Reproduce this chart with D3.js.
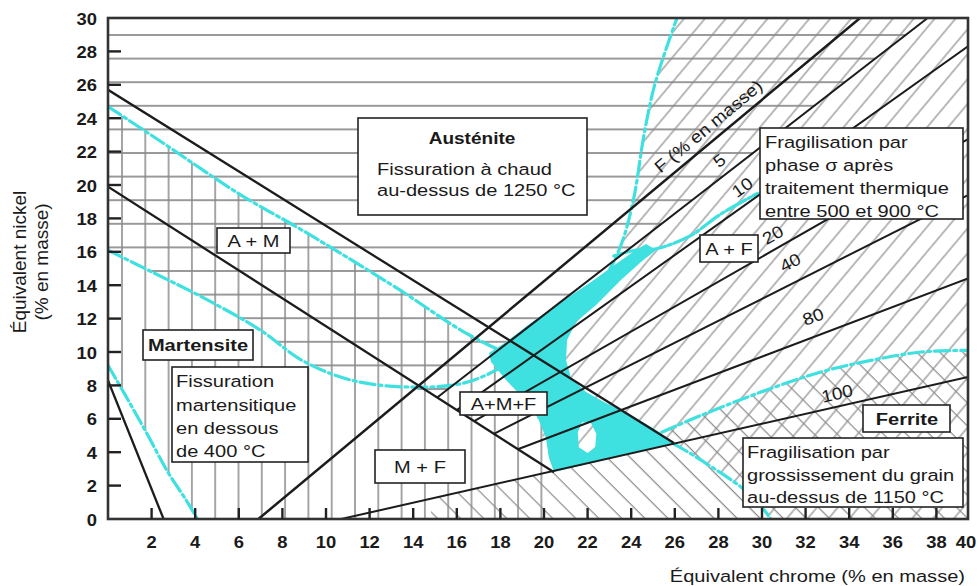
<!DOCTYPE html>
<html><head><meta charset="utf-8">
<script src="https://cdn.jsdelivr.net/npm/d3@7/dist/d3.min.js"></script>
<style>
body{margin:0;background:#fff;}
svg{display:block;font-family:"Liberation Sans",Arial,Helvetica,sans-serif;}
</style></head><body>
<svg id="c" width="978" height="586"></svg>
<script>
// ===== DATA (x = équivalent chrome, y = équivalent nickel, % en masse) =====
const xTicks = [2,4,6,8,10,12,14,16,18,20,22,24,26,28,30,32,34,36,38];
const xEndLabel = "40";
const yTicks = [0,2,4,6,8,10,12,14,16,18,20,22,24,26,28,30];

// phase boundary lines
const lineMartLimit = [[0,8.3],[2.55,0]];
const lineAustMart  = [[0,25.7],[25.96,4.55]];
const lineMartAust  = [[0,19.9],[20.46,2.8]];

// ferrite iso-lines
const ferriteLabels = ["F (% en masse)","5","10","20","40","80","100"];
const ferriteStart  = [[6.9,0],[15.1,7.28],[16.0,6.52],[16.8,5.86],[17.7,5.1],[18.8,4.18],[10.7,0]];
const ferriteEnd    = [[34.5,30],[37.6,30],[39.45,28.3],[39.45,22.75],[39.45,19.4],[39.45,14.4],[39.45,8.5]];
const ferriteLabelAt= [[27.55,23.5],[28.05,21.45],[29.1,19.85],[30.5,17.0],[31.3,15.35],[32.35,12.1],[33.45,7.5]];

// cyan limit curves
const curveMartCrack2 = [[0,9.2],[0.8,7.4],[1.75,5.2],[2.75,2.8],[3.6,1.1],[4.1,0]];
const curveMartCrack  = [[0,24.7],[2.2,22.8],[6.1,19.4],[8.9,17.3],[13.4,13.7],[16.2,11.3],[18.0,10.1],[19.4,9.5]];
const curveHotCrack   = [[0,16.1],[2.0,14.8],[4.3,13.3],[7.0,11.3],[8.9,9.5],[11.2,8.3],[13.9,7.9],[16.5,8.2],[18.8,9.7],[20.8,11.8],[22.6,14.1],[23.5,16.3],[24.1,19.1],[24.6,23.1],[25.1,26.1],[26.1,30]];
const curveSigma      = [[23.2,15.75],[24.2,16.1],[25.2,16.2],[26.7,16.95],[28.1,18.25],[29.8,19.5]];
const curveGrain      = [[25.4,5.2],[27.2,6.2],[29.95,7.6],[32.7,8.8],[35.0,9.5],[37.3,10.0],[39.45,10.1]];
const curveGrain2     = [[24.9,5.2],[26.3,4.25],[27.65,3.15],[29.05,1.9],[29.85,0.95],[30.4,0]];

// safe zone (cyan area) and its small hole
const safeZone = [[24.68,16.47],[25.14,16.11],[24.45,15.39],[23.53,14.31],[22.39,12.81],[21.47,11.8],[21.06,10.72],[21.01,9.52],[21.24,8.44],[21.93,7.6],[22.84,6.95],[23.99,6.23],[25.14,5.33],[25.96,4.55],[20.46,2.81],[20.23,3.65],[20.09,4.85],[19.72,6.05],[19.04,7.25],[18.26,8.32],[17.57,9.4],[17.48,9.94],[18.26,10.6],[19.4,11.74],[20.78,12.99],[22.16,14.19],[23.3,15.27],[24.22,16.11]];
const safeHole = [[21.6,4.3],[21.55,5.2],[21.75,5.8],[22.15,5.75],[22.4,5.1],[22.35,4.3],[22.0,3.95]];

// ===== CHART =====
const svg = d3.select("#c");
const x = d3.scaleLinear().domain([0,39.45]).range([108,968]);
const y = d3.scaleLinear().domain([0,30]).range([519,18]);
const lin = d3.line().x(d=>x(d[0])).y(d=>y(d[1]));
const smooth = d3.line().x(d=>x(d[0])).y(d=>y(d[1])).curve(d3.curveCatmullRom.alpha(0.5));
const CYAN = "#3fe0e0", INK = "#1c1c1c";
const SX = 1.18;

const defs = svg.append("defs");
defs.append("clipPath").attr("id","plot").append("rect")
  .attr("x",x(0)).attr("y",y(30)).attr("width",x(39.45)-x(0)).attr("height",y(0)-y(30));

function pattern(id, w, h, px, py, rot, x1,y1,x2,y2, color, sw){
  const p = defs.append("pattern").attr("id",id).attr("patternUnits","userSpaceOnUse")
    .attr("width",w).attr("height",h).attr("x",px).attr("y",py);
  if (rot) p.attr("patternTransform",`rotate(${rot})`);
  p.append("line").attr("x1",x1).attr("y1",y1).attr("x2",x2).attr("y2",y2)
    .attr("stroke",color).attr("stroke-width",sw);
}
pattern("hH", 40, 23.6, 0, 23.2, 0, 0,11.8,40,11.8, "#767676", 1.7);
pattern("hV", 23.3, 40, 110.35, 0, 0, 11.65,0,11.65,40, "#888", 1.5);
pattern("hS", 16, 40, 0, 0, 40, 8,0,8,40, "#8a8a8a", 1.2);
pattern("hB", 16.3, 40, 0, 0, -45, 8,0,8,40, "#8a8a8a", 1.2);

const plot = svg.append("g").attr("clip-path","url(#plot)");

// hatch regions
const f5s = ferriteStart[1], f5e = ferriteEnd[1];
const hotLeft = curveHotCrack.filter(d=>d[0]<=13.9).slice().reverse();
const regionH = [[0,30], f5e, f5s, ...hotLeft];
const regionV = [...curveMartCrack, [20.46,2.81],[20.8,0], ...curveMartCrack2.slice().reverse()];
const hotRight = curveHotCrack.filter(d=>d[0]>=18.8).slice().reverse();
const regionS = [...hotRight, [20.46,2.81], [25.96,4.55], ...curveGrain2.filter(d=>d[0]>26), [39.45,0],[39.45,30]];
const l3 = c => [c, ferriteStart[6][1] + (ferriteEnd[6][1]-ferriteStart[6][1])*(c-ferriteStart[6][0])/(ferriteEnd[6][0]-ferriteStart[6][0])];
const regionB = [l3(14.82), l3(25.0), ...curveGrain, [39.45,0],[14.82,0]];

[[regionH,"hH"],[regionV,"hV"],[regionS,"hS"],[regionB,"hB"]].forEach(([r,id])=>{
  plot.append("path").attr("d", lin(r)+"Z").attr("fill",`url(#${id})`);
});

// safe zone fill with hole
plot.append("path").attr("d", lin(safeZone)+"Z"+lin(safeHole)+"Z")
  .attr("fill",CYAN).attr("fill-rule","evenodd");

// cyan curves
const dashDot = "15,4,3,4";
[[curveMartCrack2,dashDot],[curveMartCrack,dashDot],[curveHotCrack,dashDot],[curveSigma,"22,3,3,3"],[curveGrain,dashDot],[curveGrain2,dashDot]]
.forEach(([c,da])=>{
  plot.append("path").attr("d",smooth(c)).attr("fill","none").attr("stroke",CYAN)
    .attr("stroke-width",3.2).attr("stroke-dasharray",da).attr("stroke-linecap","round");
});

// black phase lines
[lineMartLimit,lineAustMart,lineMartAust].forEach(l=>{
  plot.append("path").attr("d",lin(l)).attr("stroke",INK).attr("stroke-width",2.3).attr("fill","none");
});
ferriteStart.forEach((s,i)=>{
  plot.append("path").attr("d",lin([s,ferriteEnd[i]])).attr("stroke",INK)
    .attr("stroke-width", i===0?2.5:2.0).attr("fill","none");
});

// text helpers
function txt(g, s, px, py, anchor, weight, size, sx){
  return g.append("text").attr("transform",`translate(${px},${py}) scale(${sx||SX},1)`)
    .attr("text-anchor",anchor||"start").attr("dominant-baseline","central")
    .style("font-size",(size||17)+"px").style("font-weight",weight||"normal").attr("fill","#1a1a1a").text(s);
}
const ann = svg.append("g");
function box(bx,by,bw,bh){
  ann.append("rect").attr("x",bx).attr("y",by).attr("width",bw).attr("height",bh)
    .attr("fill","#fff").attr("stroke","#222").attr("stroke-width",1.6);
}

// ferrite labels
ferriteLabels.forEach((t,i)=>{
  const s=ferriteStart[i], e=ferriteEnd[i];
  const ang = Math.atan2(y(e[1])-y(s[1]), x(e[0])-x(s[0]))*180/Math.PI;
  const p = ferriteLabelAt[i];
  ann.append("text").attr("transform",`translate(${x(p[0])},${y(p[1])}) rotate(${ang}) scale(1.12,1)`)
    .attr("text-anchor","middle").attr("dominant-baseline","central")
    .style("font-size","17px").attr("fill","#1a1a1a").text(t);
});

// annotation boxes
box(358,118,229,97);
txt(ann,"Austénite",472,138,"middle","bold",17,1.12);
txt(ann,"Fissuration à chaud",377,169);
txt(ann,"au-dessus de 1250 °C",377,190);

box(217,228,73,25); txt(ann,"A + M",253.5,241,"middle");
box(143,330,110,30); txt(ann,"Martensite",198,345,"middle","bold");
box(172,367,136,95);
txt(ann,"Fissuration",176,381); txt(ann,"martensitique",176,405);
txt(ann,"en dessous",176,428); txt(ann,"de 400 °C",176,451);
box(460,392,87,23); txt(ann,"A+M+F",503.5,404,"middle");
box(375,450,90,33); txt(ann,"M + F",420,467,"middle");
box(700,235,58,27); txt(ann,"A + F",729,249,"middle");
box(760,128,203,91);
txt(ann,"Fragilisation par",765,142); txt(ann,"phase σ après",765,165);
txt(ann,"traitement thermique",765,188); txt(ann,"entre 500 et 900 °C",765,211);
box(863,405,87,27); txt(ann,"Ferrite",907,419,"middle","bold");
box(743,438,220,69);
txt(ann,"Fragilisation par",747,452); txt(ann,"grossissement du grain",747,475);
txt(ann,"au-dessus de 1150 °C",747,497);

// frame
const fr = svg.append("g");
fr.append("rect").attr("x",x(0)).attr("y",y(30)).attr("width",x(39.45)-x(0)).attr("height",y(0)-y(30))
  .attr("fill","none").attr("stroke","#333").attr("stroke-width",2.6);

// ticks
yTicks.filter(v=>v>0&&v<30).forEach(v=>{
  fr.append("line").attr("x1",x(0)).attr("x2",x(0)+13).attr("y1",y(v)).attr("y2",y(v))
    .attr("stroke","#222").attr("stroke-width",2.4);
});
xTicks.forEach(v=>{
  fr.append("line").attr("x1",x(v)).attr("x2",x(v)).attr("y1",y(0)).attr("y2",y(0)-11)
    .attr("stroke","#222").attr("stroke-width",2.4);
});
yTicks.forEach(v=>{ txt(fr,String(v),97,y(v)+1,"end","bold",16,1.15); });
xTicks.forEach(v=>{ txt(fr,String(v),x(v),542,"middle","bold",16,1.15); });
txt(fr,xEndLabel,966,542,"middle","bold",16,1.15);

// axis titles
txt(fr,"Équivalent chrome (% en masse)",965,576,"end","normal",17,1.18);
[["Équivalent nickel",19],["(% en masse)",41]].forEach(([t,px])=>{
  fr.append("text").attr("transform",`translate(${px},262) rotate(-90)`)
    .attr("text-anchor","middle").attr("dominant-baseline","central")
    .style("font-size","19px").attr("fill","#1a1a1a").text(t);
});
</script>
</body></html>
